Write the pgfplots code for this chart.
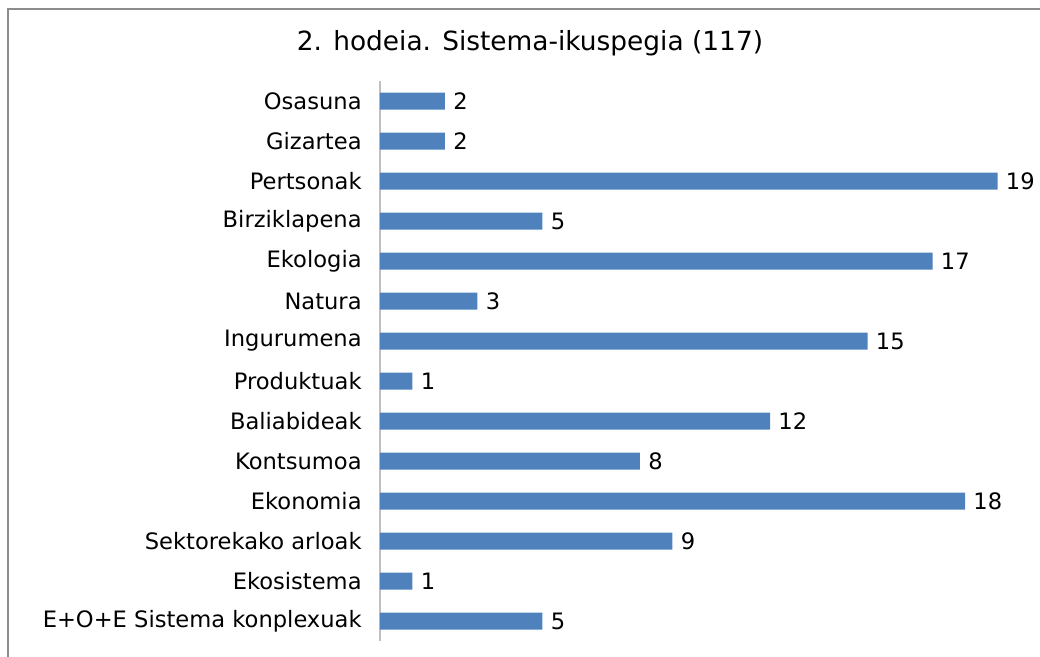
\documentclass[border=0pt]{standalone}
\usepackage{pgfplots}
\pgfplotsset{compat=1.18}
\usepackage{fontspec}
\setmainfont{DejaVu Sans}
\definecolor{barblue}{HTML}{4F81BD}
\definecolor{axgray}{HTML}{BFBFBF}
\definecolor{framegray}{HTML}{8C8C8C}
\begin{document}
\begin{tikzpicture}
\useasboundingbox (0,0) rectangle (520pt,-328.5pt);
\draw[framegray, line width=0.8pt] (4pt,-4.5pt) rectangle (540pt,-345pt);
\node[font=\fontsize{13.2}{15}\selectfont] at (265pt,-21.5pt) {2. hodeia. Sistema-ikuspegia (117)};
\begin{axis}[
  at={(190pt,-320.5pt)}, anchor=south west,
  scale only axis,
  width=325pt, height=280pt,
  xmin=0, xmax=20,
  ymin=-0.5, ymax=13.5,
  y dir=reverse,
  xbar, bar width=8.5pt,
  hide x axis,
  axis y line*=left,
  y axis line style={axgray, line width=0.8pt, -},
  ytick={0,...,13},
  yticklabels={Osasuna,Gizartea,Pertsonak,Birziklapena,Ekologia,Natura,Ingurumena,Produktuak,Baliabideak,Kontsumoa,Ekonomia,Sektorekako arloak,Ekosistema,E+O+E Sistema konplexuak},
  major tick length=0pt,
  ytick style={draw=none},
  yticklabel style={font=\fontsize{11.3}{13}\selectfont, anchor=east, inner sep=0pt, xshift=-9pt},
  nodes near coords,
  nodes near coords style={font=\fontsize{11.3}{13}\selectfont, anchor=west, inner sep=0pt, xshift=4pt},
  /pgf/number format/assume math mode=true,
  clip=false,
]
\addplot[fill=barblue, draw=none] coordinates {
(2,0) (2,1) (19,2) (5,3) (17,4) (3,5) (15,6) (1,7) (12,8) (8,9) (18,10) (9,11) (1,12) (5,13)
};
\end{axis}
\end{tikzpicture}
\end{document}
